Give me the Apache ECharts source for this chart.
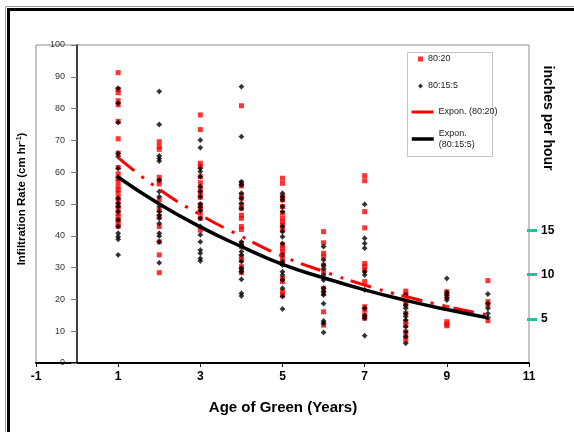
<!DOCTYPE html>
<html>
<head>
<meta charset="utf-8">
<script src="https://cdn.jsdelivr.net/npm/echarts@6/dist/echarts.min.js"></script>
<style>
html,body{margin:0;padding:0;background:#fff;}
#chart{width:574px;height:432px;}
</style>
</head>
<body>
<div id="chart"></div>
<script>
// ---- Data ----
const ages = [1, 2, 3, 4, 5, 6, 7, 8, 9, 10];
const seriesNames = ['80:20', '80:15:5', 'Expon. (80:20)', 'Expon. (80:15:5)'];

// Infiltration rate (cm/hr) observations for the 80:20 mix, per age
const rates8020 = [
  [91.3, 86, 85, 82.5, 81.2, 76, 70.5, 66, 61.5, 59.5, 58, 57, 55.5, 54.5, 53.5, 52, 51, 49.5, 48.5, 47, 46, 45, 44, 43],
  [69.6, 68.1, 67.2, 58.4, 57.3, 56.3, 51.3, 48.1, 46, 42.9, 38.1, 34, 28.4],
  [78, 73.4, 62.8, 61.9, 58.6, 56.7, 54.9, 53.4, 52.1, 49.7, 48.6, 47.1, 45.5, 41.8],
  [80.9, 56.5, 55.7, 52.8, 51.8, 49.7, 48.6, 46.5, 45.5, 42.9, 42, 37.6, 36.6, 33.4, 32.4, 30.3, 29.2, 28.4],
  [58.1, 56.5, 52.3, 51.3, 49.2, 47.1, 45.5, 44.4, 43.4, 41.8, 37.1, 36.1, 35, 32.9, 31.3, 26.6, 25.6, 22.4, 21.4],
  [41.3, 37.8, 34.5, 33.4, 30.8, 28.7, 23.5, 21.9, 16.1, 11.9],
  [58.9, 57.3, 47.6, 42.5, 31.3, 30.3, 29.2, 25.6, 17.7, 16.7, 15.1, 14.1],
  [22.6, 21.6, 19.5, 18.2, 15.6, 13, 11.9, 9.8, 8.3, 7.2],
  [22.4, 21, 17.5, 13, 12.2, 11.7],
  [25.9, 19.3, 18.2, 13.3]
];

// Infiltration rate (cm/hr) observations for the 80:15:5 mix, per age
const rates80155 = [
  [86.4, 81.7, 75.6, 65.9, 64.9, 61.2, 58.4, 51.8, 50.2, 49.2, 47.6, 45, 42.9, 40.8, 39.7, 38.9, 34],
  [85.4, 75, 65.1, 64.3, 63.5, 57.5, 53.9, 52.3, 49.2, 47.6, 46.5, 45.5, 43.9, 40.8, 39.9, 38.1, 31.5],
  [70.1, 67.7, 61.2, 60.2, 58.6, 55.5, 53.9, 52.3, 50, 49, 47.9, 45.5, 42.9, 40.3, 38.1, 35.5, 34.5, 32.9, 32.1],
  [86.9, 71.2, 57, 56, 53.4, 51.8, 50.2, 48.6, 38.1, 37.1, 35, 34, 31.9, 29.8, 28.7, 26.3, 21.9, 21.1],
  [53.4, 52.3, 51.3, 49.2, 47.6, 42.9, 41.3, 39.7, 37.6, 34, 31.9, 30.8, 28.7, 27.7, 26.1, 23.5, 20.9, 17],
  [36.6, 32.4, 30.8, 29.6, 27.7, 26.1, 23.5, 22.4, 21.4, 18.7, 13.2, 12.5, 9.6],
  [49.9, 39.2, 37.6, 36.1, 28.7, 27.7, 23, 17.2, 14.9, 14.1, 8.6],
  [21.4, 18.2, 17.2, 15.6, 14.6, 13.5, 11.4, 9.8, 8.3, 6.2],
  [26.6, 22.2, 21.4, 20.5, 19.8],
  [21.7, 18.7, 17.2, 15.6, 14.3]
];

// Exponential trend lines, values read at each age
const trend8020 = [64.6, 54.6, 46.6, 39.8, 33.6, 28.8, 24.5, 20.9, 17.8, 15.1];
const trend80155 = [58.4, 50.0, 42.8, 36.6, 31.0, 26.8, 23.0, 19.7, 16.8, 14.2];

// Secondary scale tick labels (inches per hour)
const inchTicks = [5, 10, 15];

const xTitle = 'Age of Green (Years)';
const rightTitle = 'inches per hour';

// ---- Build ----
const toPoints = (rows) => ages.flatMap((a, i) => rows[i].map(v => [a, v]));
const toLine = (vals) => ages.map((a, i) => [a, vals[i]]);

const FONT = 'Liberation Sans, Arial, sans-serif';
const starPath = 'path://M0,-3L1.4,-1.4L3,0L1.4,1.4L0,3L-1.4,1.4L-3,0L-1.4,-1.4Z';

const chart = echarts.init(document.getElementById('chart'), null, {renderer: 'canvas'});

const legendText = {fontSize: 9, fontFamily: FONT, color: '#222'};

const option = {
  backgroundColor: '#fff',
  animation: false,
  grid: {
    left: 36, right: 45, top: 45, bottom: 69,
    containLabel: false, outerBoundsMode: 'none',
    show: true, borderColor: '#8a8a8a', borderWidth: 1, backgroundColor: '#fff'
  },
  xAxis: {
    type: 'value', min: -1, max: 11, interval: 2,
    axisLine: {show: true, lineStyle: {color: '#000', width: 2}},
    axisTick: {show: true, length: 4, lineStyle: {color: '#000', width: 1}},
    axisLabel: {color: '#000', fontSize: 12, fontWeight: 'bold', fontFamily: FONT, margin: 8},
    splitLine: {show: false}
  },
  yAxis: [
    {
      type: 'value', min: 0, max: 100, interval: 10,
      axisLine: {show: true, onZero: true, lineStyle: {color: '#000', width: 1.5}},
      axisTick: {show: true, length: 6, lineStyle: {color: '#777', width: 1}},
      axisLabel: {color: '#333', fontSize: 9, fontFamily: FONT, margin: -29},
      splitLine: {show: false}
    },
    {
      type: 'value', min: 0, max: 36, interval: 5, position: 'right', offset: -2,
      axisLine: {show: false},
      axisTick: {show: true, length: 10, customValues: inchTicks, lineStyle: {color: '#1ec49e', width: 3}},
      axisLabel: {color: '#000', fontSize: 12, fontWeight: 'bold', fontFamily: FONT, margin: 14, customValues: inchTicks},
      splitLine: {show: false}
    }
  ],
  legend: [
    {data: [seriesNames[0]], left: 418, top: 54.5, padding: 0, itemWidth: 5, itemHeight: 5, itemTextGap: 9, textStyle: legendText, selectedMode: false},
    {data: [seriesNames[1]], left: 418, top: 81.5, padding: 0, itemWidth: 5, itemHeight: 5, itemTextGap: 9, textStyle: legendText, selectedMode: false},
    {data: [seriesNames[2]], left: 410, top: 107.5, padding: 0, itemWidth: 22, itemHeight: 3, itemTextGap: 1, textStyle: legendText, selectedMode: false,
      lineStyle: {type: 'solid', width: 3}},
    {data: [seriesNames[3]], left: 410, top: 122, padding: 0, itemWidth: 22, itemHeight: 3, itemTextGap: 1, selectedMode: false,
      lineStyle: {type: 'solid', width: 3.5},
      formatter: () => 'Expon.\n(80:15:5)',
      textStyle: Object.assign({}, legendText, {lineHeight: 11.5, padding: [11, 0, 0, 0]})}
  ],
  graphic: [
    {type: 'rect', shape: {x: 5.5, y: 6.5, width: 700, height: 600}, style: {fill: 'none', stroke: '#9a9a9a', lineWidth: 1}, silent: true, z: 100},
    {type: 'rect', shape: {x: 8.5, y: 9.5, width: 700, height: 600}, style: {fill: 'none', stroke: '#000', lineWidth: 3}, silent: true, z: 100},
    {type: 'rect', shape: {x: 407.5, y: 52.5, width: 85, height: 104}, style: {fill: 'none', stroke: '#c4c4c4', lineWidth: 1}, silent: true, z: 1},
    {type: 'text', x: 283, y: 408, style: {text: xTitle, font: 'bold 15px ' + FONT, fill: '#000', align: 'center', verticalAlign: 'middle'}},
    {type: 'text', x: 548, y: 118, rotation: -Math.PI / 2, style: {text: rightTitle, font: 'bold 14px ' + FONT, fill: '#000', align: 'center', verticalAlign: 'middle'}},
    {type: 'text', x: 22, y: 199, rotation: Math.PI / 2, style: {
      text: 'Infiltration Rate (cm hr{sup|-1})',
      rich: {sup: {fontSize: 7, fontWeight: 'bold', fontFamily: FONT, verticalAlign: 'top', padding: [0, 0, 5, 0]}},
      font: 'bold 11.5px ' + FONT, fontSize: 11.5, fontWeight: 'bold', fontFamily: FONT, fill: '#000', align: 'center', verticalAlign: 'middle'}}
  ],
  series: [
    {
      name: seriesNames[0], type: 'scatter', data: toPoints(rates8020),
      symbol: 'rect', symbolSize: 5, itemStyle: {color: '#ff0000'}, z: 2
    },
    {
      name: seriesNames[1], type: 'scatter', data: toPoints(rates80155),
      symbol: starPath, symbolSize: 6, itemStyle: {color: '#000'}, z: 3
    },
    {
      name: seriesNames[2], type: 'line', data: toLine(trend8020), smooth: true,
      symbol: 'none', showSymbol: false, itemStyle: {color: '#ff0000'},
      lineStyle: {color: '#ff0000', width: 3, type: [21, 9, 3, 9, 3, 8], cap: 'butt'}, z: 4
    },
    {
      name: seriesNames[3], type: 'line', data: toLine(trend80155), smooth: true,
      symbol: 'none', showSymbol: false, itemStyle: {color: '#000'},
      lineStyle: {color: '#000', width: 3.5, type: 'solid'}, z: 5
    }
  ]
};
chart.setOption(option);
</script>
</body>
</html>
